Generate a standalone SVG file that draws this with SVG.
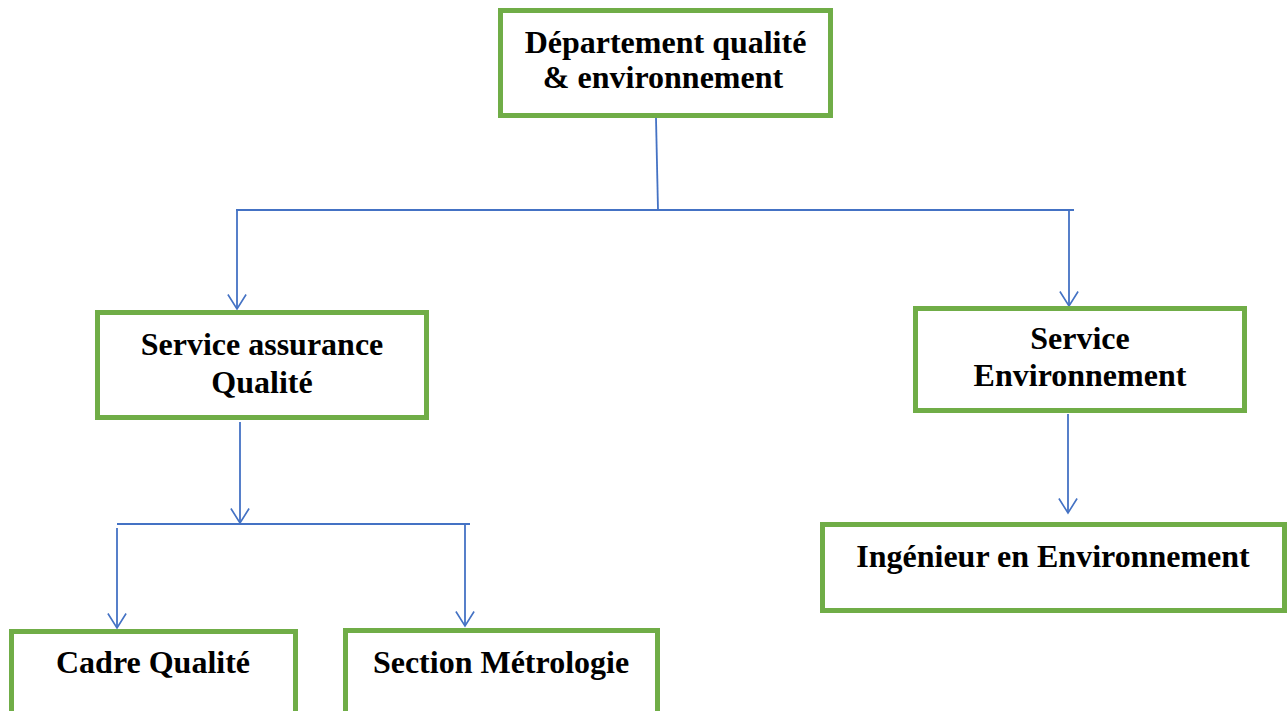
<svg xmlns="http://www.w3.org/2000/svg" width="1288" height="711" viewBox="0 0 1288 711">
<style>
.box{fill:#fff;stroke:#70AD47;stroke-width:5}
.lbl{font-family:"Liberation Serif","Times New Roman",serif;font-weight:bold;font-size:32px;fill:#000;text-anchor:middle}
.ln{fill:none;stroke:#4472C4;stroke-width:1.8}
</style>
<defs>
<marker id="ah" markerUnits="userSpaceOnUse" markerWidth="24" markerHeight="20" viewBox="-18 -11 20 22" refX="0" refY="0" orient="auto">
<path d="M-16,-10 L0,0 L-16,10" fill="none" stroke="#4472C4" stroke-width="1.8"/>
</marker>
</defs>
<rect width="1288" height="711" fill="#fff"/>
<g id="connectors">
<path class="ln" d="M656,118 L658,210"/>
<path class="ln" d="M236,210 L1074,210"/>
<path class="ln" d="M237,210 L237,309" marker-end="url(#ah)"/>
<path class="ln" d="M1069,210 L1069,306" marker-end="url(#ah)"/>
<path class="ln" d="M1068,414 L1068,513" marker-end="url(#ah)"/>
<path class="ln" d="M240,422 L240,523" marker-end="url(#ah)"/>
<path class="ln" d="M117,524 L470,524"/>
<path class="ln" d="M117,528 L117,628" marker-end="url(#ah)"/>
<path class="ln" d="M465,524 L465,626" marker-end="url(#ah)"/>
</g>
<g id="dept">
<rect class="box" x="500.5" y="10.5" width="330" height="105"/>
<text class="lbl" x="665.5" y="53">Département qualité</text>
<text class="lbl" x="663" y="88">&amp; environnement</text>
</g>
<g id="service-aq">
<rect class="box" x="97.5" y="312.5" width="329" height="105"/>
<text class="lbl" x="262" y="355">Service assurance</text>
<text class="lbl" x="262" y="393">Qualité</text>
</g>
<g id="service-env">
<rect class="box" x="915.5" y="308.5" width="329" height="102"/>
<text class="lbl" x="1080" y="349">Service</text>
<text class="lbl" x="1080" y="386">Environnement</text>
</g>
<g id="ingenieur">
<rect class="box" x="822.5" y="524.5" width="462" height="86"/>
<text class="lbl" x="1053" y="567">Ingénieur en Environnement</text>
</g>
<g id="cadre">
<rect class="box" x="11.5" y="631.5" width="284" height="100"/>
<text class="lbl" x="153" y="673">Cadre Qualité</text>
</g>
<g id="section">
<rect class="box" x="345.5" y="630.5" width="312" height="100"/>
<text class="lbl" x="501" y="673">Section Métrologie</text>
</g>
</svg>
